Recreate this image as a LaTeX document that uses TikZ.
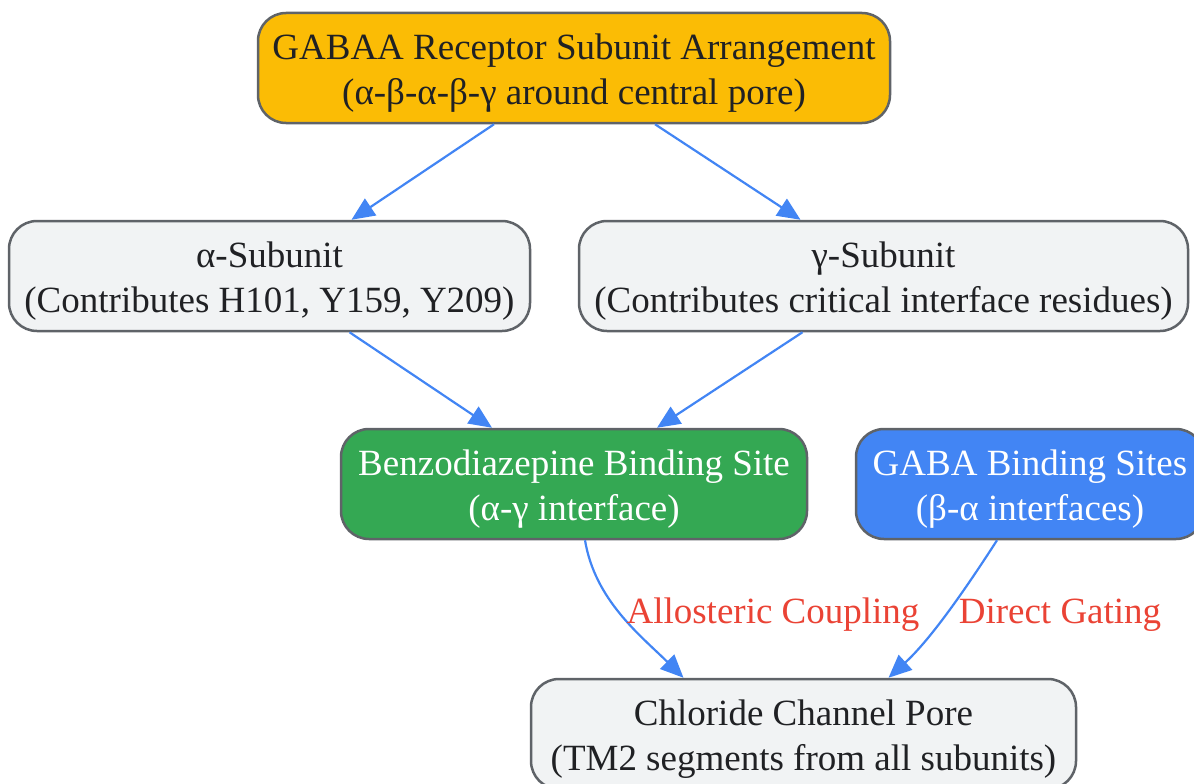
\documentclass[tikz,border=0pt]{standalone}
\usepackage{fontspec}
\setmainfont{Liberation Serif}
\usetikzlibrary{arrows.meta}
\definecolor{gyellow}{HTML}{FBBC05}
\definecolor{ggreen}{HTML}{34A853}
\definecolor{gblue}{HTML}{4285F4}
\definecolor{gred}{HTML}{EA4335}
\definecolor{glight}{HTML}{F1F3F4}
\definecolor{gborder}{HTML}{5F6368}
\definecolor{gtext}{HTML}{202124}
\newcommand{\tstrut}{\rule{0pt}{35pt}}
\begin{document}
\begin{tikzpicture}[x=1pt,y=-1pt,
  box/.style={draw=gborder, line width=2.5pt, rounded corners=28pt, align=center,
    font=\fontsize{37}{45}\selectfont, text=gtext, inner sep=0pt, fill=glight},
  link/.style={draw=gblue, line width=2.2pt, -{Triangle[length=23pt,width=20pt]}},
  lbl/.style={text=gred, font=\fontsize{37}{45}\selectfont, inner sep=0pt}]
\useasboundingbox (0,0) rectangle (1194,784);
\clip (0,0) rectangle (1194,784);

\node[box, fill=gyellow, minimum width=632pt, minimum height=110pt] (top) at (574,68)
  {\tstrut GABAA Receptor Subunit Arrangement\\(α-β-α-β-γ around central pore)};
\node[box, minimum width=521pt, minimum height=110pt] (alpha) at (269.5,276)
  {\tstrut α-Subunit\\(Contributes H101, Y159, Y209)};
\node[box, minimum width=609pt, minimum height=110pt] (gamma) at (883.5,276)
  {\tstrut γ-Subunit\\(Contributes critical interface residues)};
\node[box, fill=ggreen, text=white, minimum width=466pt, minimum height=110pt] (benzo) at (574,484)
  {\tstrut Benzodiazepine Binding Site\\(α-γ interface)};
\node[box, fill=gblue, text=white, minimum width=348pt, minimum height=110pt] (gaba) at (1030,484)
  {\tstrut GABA Binding Sites\\(β-α interfaces)};
\node[box, minimum width=545pt, minimum height=110pt] (chl) at (803.5,734)
  {\tstrut Chloride Channel Pore\\(TM2 segments from all subunits)};

\draw[link] ([xshift=-80pt]top.south) -- ([xshift=82pt]alpha.north);
\draw[link] ([xshift=81pt]top.south) -- ([xshift=-83pt]gamma.north);
\draw[link] ([xshift=80pt]alpha.south) -- ([xshift=-82pt]benzo.north);
\draw[link] ([xshift=-81pt]gamma.south) -- ([xshift=83pt]benzo.north);
\draw[link] ([xshift=11pt]benzo.south) .. controls (595,600) and (640,635) .. ([xshift=-120pt]chl.north);
\draw[link] ([xshift=-33pt]gaba.south) .. controls (965,590) and (930,640) .. ([xshift=85pt]chl.north);

\node[lbl] (l1) at (773,615) {Allosteric Coupling};
\node[lbl] (l2) at (1060,615) {Direct Gating};
\end{tikzpicture}
\end{document}
